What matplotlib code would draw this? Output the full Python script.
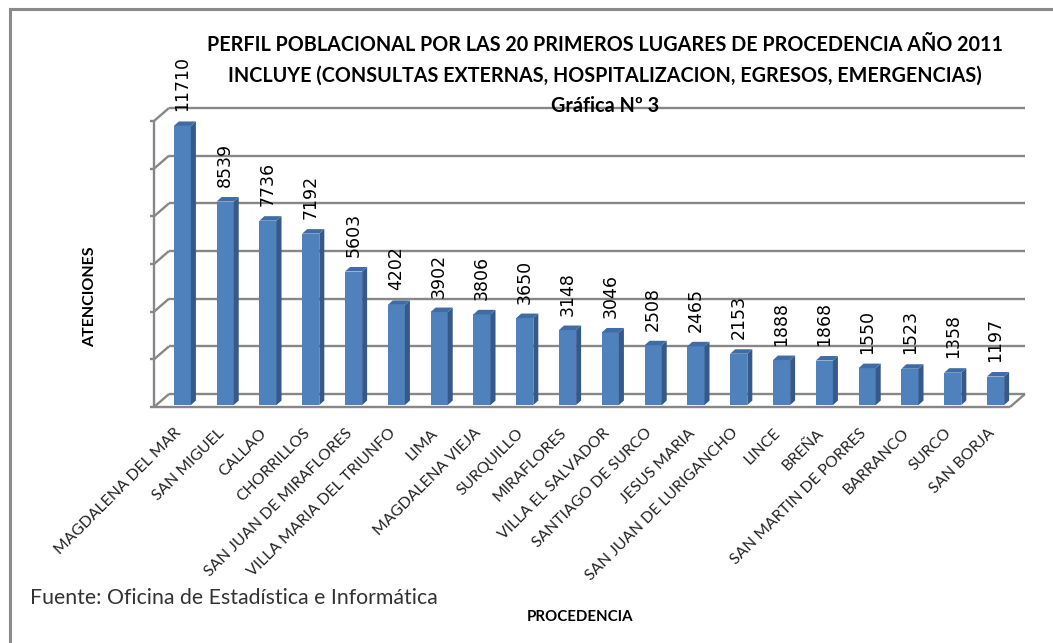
import matplotlib
matplotlib.use("Agg")
import matplotlib.pyplot as plt

# data
lugares = ["MAGDALENA DEL MAR", "SAN MIGUEL", "CALLAO", "CHORRILLOS",
           "SAN JUAN DE MIRAFLORES", "VILLA MARIA DEL TRIUNFO", "LIMA",
           "MAGDALENA VIEJA", "SURQUILLO", "MIRAFLORES", "VILLA EL SALVADOR",
           "SANTIAGO DE SURCO", "JESUS MARIA", "SAN JUAN DE LURIGANCHO",
           "LINCE", "BREÑA", "SAN MARTIN DE PORRES", "BARRANCO", "SURCO",
           "SAN BORJA"]
atenciones = [11710, 8539, 7736, 7192, 5603, 4202, 3902, 3806, 3650, 3148,
              3046, 2508, 2465, 2153, 1888, 1868, 1550, 1523, 1358, 1197]
y_ticks = [0, 2000, 4000, 6000, 8000, 10000, 12000]

W, H = 1053, 643

def fx(px):
    return px / W

def fy(py):
    return 1 - py / H

fig = plt.figure(figsize=(W / 100, H / 100), dpi=100)
fig.patch.set_facecolor("white")

# frame of the pasted chart (only top and left edges visible)
fig.add_artist(plt.Line2D([fx(10), fx(1053)], [fy(9), fy(9)], color="#8a8a8a", lw=2.2))
fig.add_artist(plt.Line2D([fx(10), fx(10)], [fy(9), fy(643)], color="#8a8a8a", lw=2.2))

# front plane of the 3d box
left_px, right_px, base_px, top_px = 154, 1010, 407, 121
ax = fig.add_axes([fx(left_px), fy(base_px), (right_px - left_px) / W, (base_px - top_px) / H])
x0, x1 = -0.61, 19.39
ax.set_xlim(x0, x1)
ax.set_ylim(0, 12000)
ax.axis("off")

ppx = (right_px - left_px) / (x1 - x0)
ppv = (base_px - top_px) / 12000.0
dx, dy = 15 / ppx, 13 / ppv          # depth of the box
sdx, sdy = 5 / ppx, 4.5 / ppv        # depth of each bar
grid_c = "#878787"

kw = dict(color=grid_c, lw=1.7, clip_on=False, zorder=1, solid_capstyle="butt")
for v in y_ticks:
    ax.plot([x0 + dx, x1 + dx], [v + dy, v + dy], **kw)
    ax.plot([x0, x0 + dx], [v, v + dy], **kw)
    ax.plot([x0 - 4 / ppx, x0], [v, v], **kw)
ax.plot([x0, x0], [0, 12000], **kw)
ax.plot([x0, x1], [0, 0], **kw)
ax.plot([x1, x1 + dx], [0, dy], **kw)

# bars with fake 3d faces
bw = 0.40
off_x, off_y = 0.15 * dx, 0.15 * dy
for i, v in enumerate(atenciones):
    l = i - bw / 2 + off_x
    r = i + bw / 2 + off_x
    b = off_y
    t = v + off_y
    ax.fill([l, r, r, l], [b, b, t, t], color="#4f81bd", clip_on=False, zorder=3, lw=0)
    ax.fill([r, r + sdx, r + sdx, r], [b, b + sdy, t + sdy, t],
            color="#36598a", clip_on=False, zorder=3, lw=0)
    ax.fill([l, r, r + sdx, l + sdx], [t, t, t + sdy, t + sdy],
            color="#3f6ca3", clip_on=False, zorder=3, lw=0)
    ax.text(i + off_x, t + sdy + 10 / ppv, str(v), rotation=90, ha="center",
            va="bottom", fontsize=12.5, family="DejaVu Sans", color="black",
            clip_on=False, zorder=4)

# category labels
for i, name in enumerate(lugares):
    px = left_px + (i - x0) * ppx + 4
    fig.text(fx(px), fy(426), name, rotation=45, ha="right", va="top",
             fontsize=11.3, family=["Lato", "DejaVu Sans"], color="#222222")

# titles and axis labels
tkw = dict(ha="center", va="center", fontsize=14.2, fontweight="bold",
           family=["Lato", "DejaVu Sans"], color="black")
fig.text(fx(605), fy(45), "PERFIL POBLACIONAL POR LAS 20 PRIMEROS LUGARES DE PROCEDENCIA AÑO 2011", **tkw)
fig.text(fx(605), fy(76), "INCLUYE (CONSULTAS EXTERNAS, HOSPITALIZACION, EGRESOS, EMERGENCIAS)", **tkw)
fig.text(fx(605), fy(106), "Gráfica Nº 3", **tkw)

fig.text(fx(90), fy(297), "ATENCIONES", rotation=90, ha="center", va="center",
         fontsize=11.5, fontweight="bold", family=["Lato", "DejaVu Sans"])
fig.text(fx(580), fy(617), "PROCEDENCIA", ha="center", va="center",
         fontsize=10.8, fontweight="bold", family=["Lato", "DejaVu Sans"])
fig.text(fx(30), fy(598), "Fuente: Oficina de Estadística e Informática", ha="left",
         va="center", fontsize=15.3, family=["Lato", "DejaVu Sans"], color="#333333")

fig.savefig("out.png", dpi=100)
